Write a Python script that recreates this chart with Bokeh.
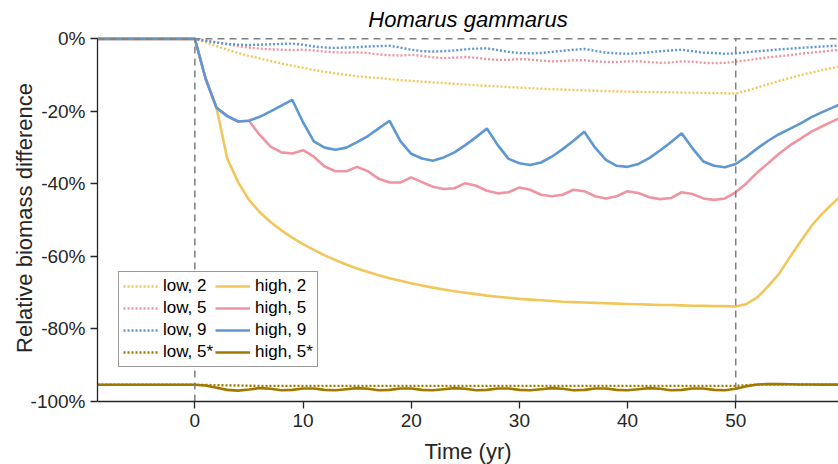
from bokeh.plotting import figure
from bokeh.models import Range1d, FixedTicker, PrintfTickFormatter, Legend, LegendItem, Span
from bokeh.embed import file_html
from bokeh.resources import INLINE

# ---------------- data ----------------
years = [-9] + list(range(0, 61))

low_2 = [0, 0, -1.0, -2.0, -3.0, -3.9, -4.7, -5.4, -6.1, -6.8, -7.4, -8.0, -8.6, -9.1, -9.5, -9.9,
         -10.3, -10.6, -10.8, -11.1, -11.4, -11.6, -11.8, -12.0, -12.2, -12.4, -12.6, -12.8, -12.95,
         -13.1, -13.3, -13.45, -13.6, -13.75, -13.9, -14.0, -14.1, -14.2, -14.3, -14.4, -14.5, -14.55,
         -14.6, -14.65, -14.7, -14.75, -14.8, -14.85, -14.9, -14.95, -15.0, -15.1, -14.3, -13.4, -12.5,
         -11.6, -10.8, -10.0, -9.3, -8.6, -8.0, -7.4]
low_5 = [0, 0, -0.5, -1.0, -1.5, -2.0, -2.4, -2.7, -2.9, -3.0, -3.1, -3.0, -3.2, -3.5, -3.7, -3.8,
         -3.7, -3.9, -4.3, -4.5, -4.6, -4.4, -4.7, -5.1, -5.3, -5.2, -5.0, -5.2, -5.6, -5.8, -5.8,
         -5.6, -5.7, -6.0, -6.2, -6.1, -5.9, -5.9, -6.2, -6.4, -6.4, -6.2, -6.2, -6.4, -6.6, -6.5,
         -6.2, -6.3, -6.6, -6.7, -6.6, -6.3, -5.9, -5.5, -5.1, -4.8, -4.5, -4.1, -3.8, -3.5, -3.2, -2.9]
low_9 = [0, 0, -0.5, -1.0, -1.4, -1.6, -1.7, -1.6, -1.5, -1.4, -1.3, -1.6, -2.1, -2.4, -2.5, -2.4,
         -2.3, -2.1, -2.0, -1.9, -2.4, -3.0, -3.4, -3.5, -3.4, -3.2, -2.9, -2.7, -2.6, -3.1, -3.6,
         -3.9, -4.0, -3.9, -3.6, -3.3, -3.0, -2.8, -3.3, -3.8, -4.0, -4.1, -4.0, -3.7, -3.4, -3.2,
         -3.0, -3.4, -3.8, -3.9, -4.1, -4.0, -3.7, -3.4, -3.2, -2.9, -2.7, -2.5, -2.3, -2.1, -1.95, -1.8]
low_5s = [-95.4, -95.4, -95.45, -95.5, -95.55, -95.6, -95.65, -95.7, -95.7, -95.7, -95.7, -95.7,
          -95.7, -95.7, -95.7, -95.7, -95.7, -95.7, -95.7, -95.7, -95.7, -95.7, -95.7, -95.7, -95.7,
          -95.7, -95.7, -95.7, -95.7, -95.7, -95.7, -95.7, -95.7, -95.7, -95.7, -95.7, -95.7, -95.7,
          -95.7, -95.7, -95.7, -95.7, -95.7, -95.7, -95.7, -95.7, -95.7, -95.7, -95.7, -95.7, -95.7,
          -95.7, -95.5, -95.35, -95.3, -95.3, -95.3, -95.3, -95.35, -95.35, -95.35, -95.35]
high_2 = [0, 0, -11.0, -19.0, -33.1, -39.5, -44.4, -47.8, -50.5, -52.8, -54.8, -56.6, -58.2, -59.7,
          -61.0, -62.2, -63.3, -64.3, -65.2, -66.0, -66.7, -67.4, -68.0, -68.6, -69.1, -69.6, -70.0,
          -70.4, -70.8, -71.1, -71.4, -71.7, -71.9, -72.1, -72.3, -72.5, -72.6, -72.7, -72.8, -72.9,
          -73.0, -73.1, -73.2, -73.3, -73.4, -73.4, -73.5, -73.6, -73.6, -73.7, -73.7, -73.8, -73.1,
          -71.3, -68.2, -64.8, -60.2, -55.8, -51.6, -48.2, -45.3, -42.5]
high_5 = [0, 0, -11.0, -19.0, -21.3, -22.8, -22.6, -26.5, -29.7, -31.3, -31.6, -30.7, -32.5, -35.2,
          -36.5, -36.5, -35.3, -36.5, -38.6, -39.6, -39.6, -38.2, -39.5, -40.8, -41.4, -41.2, -39.8,
          -40.5, -41.9, -42.6, -42.3, -41.0, -41.6, -43.0, -43.4, -43.0, -41.6, -42.0, -43.4, -44.0,
          -43.4, -42.0, -42.5, -43.7, -44.2, -43.9, -42.3, -42.8, -44.0, -44.4, -44.0, -42.3, -39.8,
          -36.8, -34.3, -31.7, -29.4, -27.5, -25.6, -24.1, -22.7, -21.3]
high_9 = [0, 0, -11.0, -19.0, -21.3, -22.8, -22.6, -21.5, -20.0, -18.4, -16.8, -23.0, -28.3, -30.0,
          -30.6, -30.0, -28.5, -26.8, -24.7, -22.6, -28.2, -31.7, -33.0, -33.6, -32.7, -31.3, -29.3,
          -27.1, -24.7, -29.3, -33.1, -34.3, -34.8, -34.1, -32.5, -30.4, -28.1, -25.6, -30.0, -33.4,
          -35.0, -35.3, -34.5, -32.9, -30.8, -28.5, -26.0, -30.2, -33.8, -35.0, -35.4, -34.5, -32.5,
          -30.2, -28.1, -26.3, -24.8, -23.3, -21.6, -20.2, -18.9, -17.6]
high_5s = [-95.4, -95.4, -95.6, -96.2, -96.8, -97.0, -96.7, -96.3, -96.5, -96.9, -96.8, -96.4,
           -96.4, -96.8, -96.9, -96.6, -96.3, -96.5, -96.9, -96.8, -96.4, -96.4, -96.8, -96.9, -96.6,
           -96.3, -96.5, -96.9, -96.8, -96.4, -96.4, -96.8, -96.9, -96.6, -96.3, -96.5, -96.9, -96.8,
           -96.4, -96.4, -96.8, -96.9, -96.6, -96.3, -96.5, -96.9, -96.8, -96.4, -96.4, -96.8, -96.9,
           -96.5, -95.8, -95.3, -95.2, -95.2, -95.25, -95.3, -95.3, -95.35, -95.35, -95.35]

series_names = ["low, 2", "low, 5", "low, 9", "low, 5*", "high, 2", "high, 5", "high, 9", "high, 5*"]
series_values = [low_2, low_5, low_9, low_5s, high_2, high_5, high_9, high_5s]
series_colors = ["#F1C75B", "#EE95A2", "#5E97D1", "#A07800",
                 "#F1C75B", "#EE95A2", "#5E97D1", "#A07800"]
series_dotted = [True, True, True, True, False, False, False, False]

x_ticks = [0, 10, 20, 30, 40, 50]
y_ticks = [-100, -80, -60, -40, -20, 0]
title_text = "Homarus gammarus"
x_label = "Time (yr)"
y_label = "Relative biomass difference"

FONT = "Liberation Sans"
TXT = "#262626"

p = figure(frame_width=741, frame_height=367, output_backend="svg", toolbar_location=None,
           x_range=Range1d(-9, 59.5), y_range=Range1d(-100, 1.2),
           min_border_left=97, min_border_right=0, min_border_top=34, min_border_bottom=63,
           title=title_text)
p.outline_line_color = None
p.background_fill_color = "white"
p.border_fill_color = "white"
p.grid.grid_line_color = None

p.title.text_font = FONT
p.title.text_font_size = "22px"
p.title.text_font_style = "italic"
p.title.text_color = "black"
p.title.align = "center"
p.title.standoff = 6

for ax in (p.xaxis[0], p.yaxis[0]):
    ax.axis_line_color = TXT
    ax.axis_line_width = 1.3
    ax.major_tick_line_color = TXT
    ax.major_tick_line_width = 1.3
    ax.major_tick_out = 7
    ax.major_tick_in = 0
    ax.minor_tick_line_color = None
    ax.major_label_text_font = FONT
    ax.major_label_text_font_size = "19px"
    ax.major_label_text_color = TXT
    ax.axis_label_text_font = FONT
    ax.axis_label_text_font_size = "22px"
    ax.axis_label_text_font_style = "normal"
    ax.axis_label_text_color = TXT

p.xaxis.ticker = FixedTicker(ticks=x_ticks)
p.yaxis.ticker = FixedTicker(ticks=y_ticks)
p.yaxis.formatter = PrintfTickFormatter(format="%d%%")
p.yaxis.bounds = (-100, 0)
p.xaxis.axis_label = x_label
p.yaxis.axis_label = y_label
p.xaxis.major_label_standoff = 5
p.yaxis.major_label_standoff = 5
p.xaxis.axis_label_standoff = 9
p.yaxis.axis_label_standoff = -9

renderers = {}
for name, vals, col, dot in zip(series_names, series_values, series_colors, series_dotted):
    if dot:
        r = p.line(years, vals, line_color=col, line_width=2.4, line_dash="2 2")
    else:
        r = p.line(years, vals, line_color=col, line_width=2.6)
    renderers[name] = r

# reference lines
p.add_layout(Span(location=0, dimension="width", line_color="#7f7f7f", line_width=1.5,
                  line_dash="7 5"))
p.segment(x0=[0, 50], y0=[-100, -100], x1=[0, 50], y1=[0, 0], line_color="#7f7f7f",
          line_width=1.5, line_dash="7 5")

legend = Legend(items=[LegendItem(label=n, renderers=[renderers[n]]) for n in series_names],
                ncols=2, location=(21, 34))
legend.label_text_font = FONT
legend.label_text_font_size = "17px"
legend.label_text_color = "black"
legend.border_line_color = "#333333"
legend.border_line_width = 1.2
legend.background_fill_alpha = 1
legend.glyph_width = 35
legend.glyph_height = 18
legend.label_standoff = 5
legend.label_height = 18
legend.spacing = 2
legend.padding = 4
legend.margin = 0
p.add_layout(legend)

open("out.html", "w").write(file_html(p, INLINE))
